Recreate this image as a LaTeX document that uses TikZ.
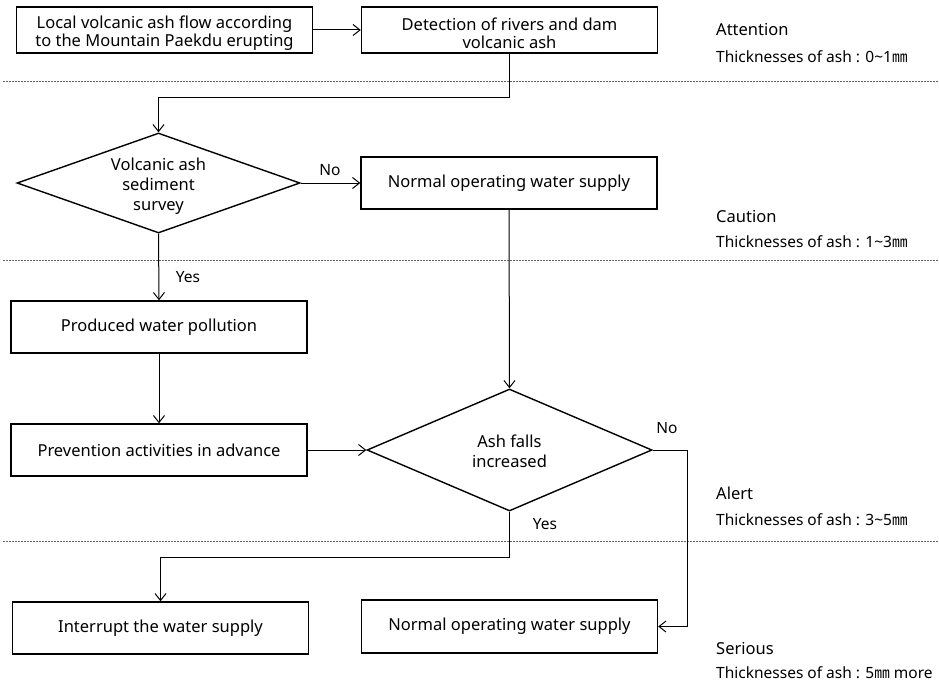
\documentclass[tikz,border=0pt]{standalone}
\usepackage{fontspec}
\setmainfont{Noto Sans}
\newfontfamily\cjk{Noto Sans CJK KR}
\usetikzlibrary{shapes.geometric,arrows.meta}
\begin{document}
\begin{tikzpicture}[x=1pt,y=-1pt,
  every node/.style={font=\fontsize{16.5}{20}\selectfont},
  box/.style={draw, line width=1.4pt, rectangle, inner sep=0pt, minimum width=296pt, minimum height=52pt, align=center},
  twoline/.style={font=\fontsize{16.5}{18}\selectfont, align=center, inner sep=0pt},
  dia/.style={draw, line width=1.4pt, diamond, inner sep=0pt},
  conn/.style={line width=1pt, -{Straight Barb[length=7pt,width=11pt,line width=1pt]}},
  sep/.style={draw=black!60, line width=1pt, dash pattern=on 2pt off 1pt},
  lvl/.style={anchor=west, inner sep=0pt, font=\fontsize{16.5}{20}\selectfont},
  thk/.style={anchor=west, inner sep=0pt, font=\fontsize{15.5}{18}\selectfont},
  lab/.style={inner sep=0pt, font=\fontsize{15.5}{18}\selectfont}]
\useasboundingbox (0,0) rectangle (939,693);
\fill[white] (0,0) rectangle (939,693);

% separators
\draw[sep] (3,81) -- (939,81);
\draw[sep] (3,260) -- (939,260);
\draw[sep] (3,541) -- (939,541);

% boxes
\node[box, minimum height=46pt] (b1) at (164.5,30) {};
\node[twoline] (t1a) at ([yshift=-3pt]b1.center) {Local volcanic ash flow according\\to the Mountain Paekdu erupting};
\node[box, minimum height=46pt] (b2) at (509.5,30) {};
\node[twoline] (t2a) at ([yshift=-3pt]b2.center) {Detection of rivers and dam\\volcanic ash};
\node[box] (b3) at (509,183) {Normal operating water supply};
\node[box] (b4) at (159,327) {Produced water pollution};
\node[box] (b5) at (159,450) {Prevention activities in advance};
\node[box, minimum height=53pt] (b6) at (509.5,626.5) {Normal operating water supply};
\node[box] (b7) at (160.5,628) {Interrupt the water supply};

% diamonds
\node[dia, minimum width=283pt, minimum height=100pt] (d1) at (158.5,183) {};
\node[align=center] (t1) at ([yshift=-3pt]d1.center) {Volcanic ash\\sediment\\survey};
\node[dia, minimum width=285pt, minimum height=122pt] (d2) at (509.5,450) {};
\node[align=center] (t2) at ([yshift=-1pt]d2.center) {Ash falls\\increased};

% helper coordinates
\coordinate (c1) at (509.5,97);
\coordinate (c2) at (158.5,97);
\coordinate (c3) at (687,450);
\coordinate (c4) at (687,626.5);
\coordinate (c5) at (509.5,557);
\coordinate (c6) at (160.5,557);

% connectors
\draw[conn] (b1.east) -- (b2.west);
\draw[conn] (b2.south) -- (c1) -- (c2) -- (d1.north);
\draw[conn] (d1.east) -- (b3.west);
\draw[conn] (d1.south) -- (b4.north);
\draw[conn] (b3.south) -- (d2.north);
\draw[conn] (b4.south) -- (b5.north);
\draw[conn] (b5.east) -- (d2.west);
\draw[conn] (d2.east) -- (c3) -- (c4) -- (b6.east);
\draw[conn] (d2.south) -- (c5) -- (c6) -- (b7.north);

% branch labels
\node[lab] (no1) at (330,170) {No};
\node[lab] (yes1) at (188,277) {Yes};
\node[lab] (no2) at (667,428) {No};
\node[lab] (yes2) at (545,524) {Yes};

% level labels
\node[lvl] (l1) at (716,30) {Attention};
\node[thk] (k1) at (716,57) {Thicknesses of ash : 0\textasciitilde 1{\cjk ㎜}};
\node[lvl] (l2) at (716,217) {Caution};
\node[thk] (k2) at (716,242) {Thicknesses of ash : 1\textasciitilde 3{\cjk ㎜}};
\node[lvl] (l3) at (716,493) {Alert};
\node[thk] (k3) at (716,520) {Thicknesses of ash : 3\textasciitilde 5{\cjk ㎜}};
\node[lvl] (l4) at (716,648) {Serious};
\node[thk] (k4) at (716,673) {Thicknesses of ash : 5{\cjk ㎜} more};
\end{tikzpicture}
\end{document}
